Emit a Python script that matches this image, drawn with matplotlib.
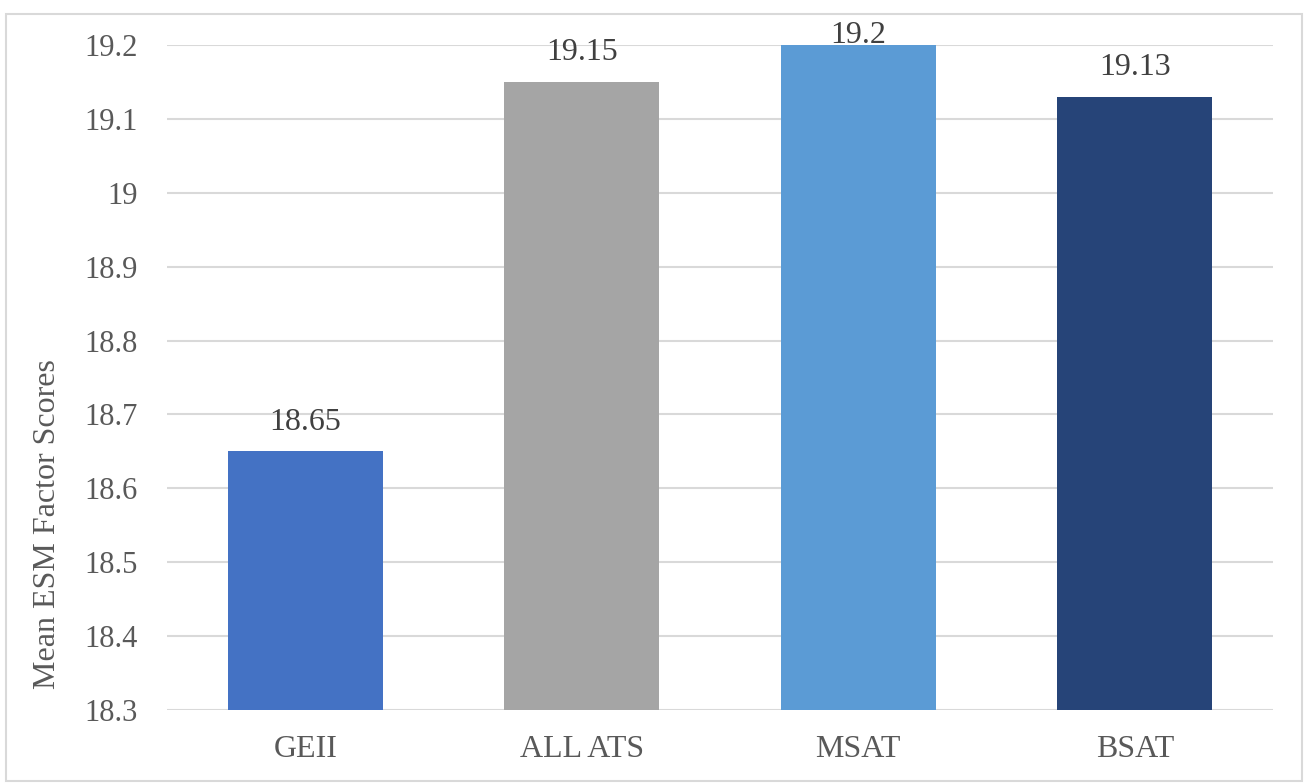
import matplotlib
matplotlib.use("Agg")
import matplotlib.pyplot as plt
from matplotlib.patches import Rectangle

categories = ["GEII", "ALL ATS", "MSAT", "BSAT"]
values = [18.65, 19.15, 19.2, 19.13]
colors = ["#4472C4", "#A5A5A5", "#5B9BD5", "#264478"]
yticks = [18.3, 18.4, 18.5, 18.6, 18.7, 18.8, 18.9, 19.0, 19.1, 19.2]
ytick_labels = ["18.3", "18.4", "18.5", "18.6", "18.7", "18.8", "18.9", "19", "19.1", "19.2"]
ylabel = "Mean ESM Factor Scores"

plt.rcParams["font.family"] = ["Liberation Serif", "DejaVu Serif"]
text_color = "#595959"
grid_color = "#D9D9D9"

W, H = 1307, 783
ax_left, ax_right, ax_top, ax_bottom = 167, 1273, 45, 710
fig = plt.figure(figsize=(W / 100, H / 100), dpi=100)
ax = fig.add_axes([ax_left / W, 1 - ax_bottom / H,
                   (ax_right - ax_left) / W, (ax_bottom - ax_top) / H])

base = yticks[0]
x = list(range(len(categories)))
ax.bar(x, [v - base for v in values], bottom=base, width=0.56,
       color=colors, zorder=3)

ax.set_xlim(-0.5, len(categories) - 0.5)
ax.set_ylim(yticks[0], yticks[-1])

# value labels sit above each bar, but are kept from rising far past the plot top
px_per_unit = (ax_bottom - ax_top) / (yticks[-1] - yticks[0])
for xi, v in zip(x, values):
    room_px = (yticks[-1] - v) * px_per_unit + 10
    off_px = min(29, room_px)
    ax.annotate(f"{v:g}", (xi, v), xytext=(0, off_px * 72 / 100),
                textcoords="offset points", ha="center", va="center",
                fontsize=23, color="#404040", annotation_clip=False, zorder=4)

ax.set_yticks(yticks)
ax.set_yticklabels(ytick_labels)
ax.set_xticks(x)
ax.set_xticklabels(categories)
ax.tick_params(axis="both", length=0, colors=text_color)
ax.tick_params(axis="y", pad=21, labelsize=22)
ax.tick_params(axis="x", pad=18, labelsize=23)
ax.set_ylabel(ylabel, fontsize=23, color=text_color)
ax.yaxis.label.set_va("center")
ax.yaxis.set_label_coords((48 - ax_left) / (ax_right - ax_left), 0.28)

ax.yaxis.grid(True, color=grid_color, linewidth=1.5, zorder=0)
ax.set_axisbelow(True)
for s in ax.spines.values():
    s.set_visible(False)

fig.patches.append(Rectangle((6 / W, 1 - 781 / H), (1302 - 6) / W, (781 - 14) / H,
                             transform=fig.transFigure, fill=False,
                             edgecolor=grid_color, linewidth=1.5))

fig.savefig("out.png", dpi=100, facecolor="white")
